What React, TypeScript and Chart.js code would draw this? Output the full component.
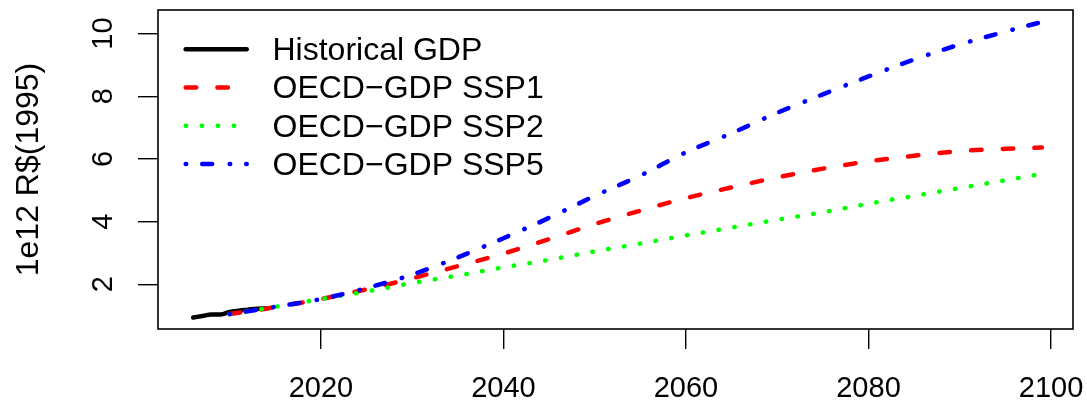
import { useEffect, useRef } from "react"
import { Chart, registerables } from "chart.js"

Chart.register(...registerables)

// Historical series (annual)
const HIST_YEARS = [2006, 2007, 2008, 2009, 2010, 2011, 2012, 2013, 2014]
const HIST_GDP = [0.94, 0.99, 1.04, 1.04, 1.12, 1.16, 1.19, 1.22, 1.23]

// OECD projections, every 5 years
const PROJ_YEARS = [2010, 2015, 2020, 2025, 2030, 2035, 2040, 2045, 2050, 2055, 2060, 2065, 2070, 2075, 2080, 2085, 2090, 2095, 2099]
const SSP1 = [1.05, 1.27, 1.53, 1.84, 2.19, 2.58, 2.98, 3.44, 3.92, 4.35, 4.75, 5.09, 5.41, 5.69, 5.92, 6.1, 6.25, 6.32, 6.36]
const SSP2 = [1.05, 1.28, 1.53, 1.77, 2.04, 2.28, 2.54, 2.78, 3.05, 3.3, 3.56, 3.81, 4.06, 4.3, 4.57, 4.82, 5.07, 5.32, 5.52]
const SSP5 = [1.05, 1.28, 1.53, 1.88, 2.31, 2.86, 3.47, 4.12, 4.82, 5.47, 6.21, 6.82, 7.47, 8.06, 8.63, 9.17, 9.65, 10.06, 10.37]

const X_TICKS = [2020, 2040, 2060, 2080, 2100]
const Y_TICKS = [2, 4, 6, 8, 10]

const LEGEND = [
  { label: "Historical GDP", color: "#000000", dash: [] as number[] },
  { label: "OECD\u2212GDP SSP1", color: "#FF0000", dash: [10.5, 21.2] },
  { label: "OECD\u2212GDP SSP2", color: "#00FF00", dash: [0.5, 15.5] },
  { label: "OECD\u2212GDP SSP5", color: "#0000FF", dash: [0.5, 16, 10, 17.5] },
]

const FONT = "'Liberation Sans', Arial, Helvetica, sans-serif"
const LINE_W = 4.5

const rDecorations = {
  id: "rDecorations",
  afterDraw(chart: any) {
    const { ctx, chartArea: a, scales } = chart
    ctx.save()

    // plot box
    ctx.strokeStyle = "#000"
    ctx.lineWidth = 1.6
    ctx.setLineDash([])
    ctx.strokeRect(a.left, a.top, a.right - a.left, a.bottom - a.top)

    ctx.fillStyle = "#000"

    // x tick labels
    ctx.font = `29px ${FONT}`
    ctx.textAlign = "center"
    ctx.textBaseline = "alphabetic"
    X_TICKS.forEach((v) => {
      ctx.fillText(String(v), scales.x.getPixelForValue(v), 397)
    })

    // y tick labels (rotated, parallel to the axis)
    Y_TICKS.forEach((v) => {
      ctx.save()
      ctx.translate(112, scales.y.getPixelForValue(v))
      ctx.rotate(-Math.PI / 2)
      ctx.fillText(String(v), 0, 0)
      ctx.restore()
    })

    // y axis title
    ctx.save()
    ctx.font = `32px ${FONT}`
    ctx.translate(37.5, (a.top + a.bottom) / 2)
    ctx.rotate(-Math.PI / 2)
    ctx.fillText("1e12 R$(1995)", 0, 0)
    ctx.restore()

    // legend
    ctx.font = `32px ${FONT}`
    ctx.textAlign = "left"
    LEGEND.forEach((item, i) => {
      const cy = 49.3 + i * 38.2
      ctx.beginPath()
      ctx.strokeStyle = item.color
      ctx.lineWidth = LINE_W
      ctx.lineCap = "round"
      ctx.setLineDash(item.dash)
      ctx.moveTo(185.7, cy)
      ctx.lineTo(246.7, cy)
      ctx.stroke()
      ctx.setLineDash([])
      ctx.fillStyle = "#000"
      ctx.fillText(item.label, 272.5, cy + 10.9)
    })

    ctx.restore()
  },
}

export default function App() {
  const chartRef = useRef<HTMLCanvasElement>(null)
  const chartInstance = useRef<Chart | null>(null)

  useEffect(() => {
    if (!chartRef.current) return
    if (chartInstance.current) chartInstance.current.destroy()
    const ctx = chartRef.current.getContext("2d")
    if (!ctx) return

    Chart.defaults.font.family = FONT

    const lineStyle = (color: string, dash: number[]) => ({
      borderColor: color,
      backgroundColor: color,
      borderWidth: LINE_W,
      borderDash: dash,
      borderCapStyle: "round" as const,
      borderJoinStyle: "round" as const,
      pointRadius: 0,
      cubicInterpolationMode: "monotone" as const,
      fill: false,
    })

    chartInstance.current = new Chart(ctx, {
      type: "line",
      data: {
        datasets: [
          {
            label: "Historical GDP",
            data: HIST_YEARS.map((x, i) => ({ x, y: HIST_GDP[i] })),
            ...lineStyle("#000000", []),
            order: 3,
          },
          {
            label: "OECD-GDP SSP1",
            data: PROJ_YEARS.map((x, i) => ({ x, y: SSP1[i] })),
            ...lineStyle("#FF0000", LEGEND[1].dash),
            order: 2,
          },
          {
            label: "OECD-GDP SSP2",
            data: PROJ_YEARS.map((x, i) => ({ x, y: SSP2[i] })),
            ...lineStyle("#00FF00", LEGEND[2].dash),
            order: 1,
          },
          {
            label: "OECD-GDP SSP5",
            data: PROJ_YEARS.map((x, i) => ({ x, y: SSP5[i] })),
            ...lineStyle("#0000FF", LEGEND[3].dash),
            order: 0,
          },
        ],
      },
      options: {
        animation: false,
        responsive: true,
        maintainAspectRatio: false,
        layout: { padding: { top: 10, right: 14, left: 0, bottom: 0 } },
        scales: {
          x: {
            type: "linear",
            min: 2002.14,
            max: 2102.41,
            afterBuildTicks: (scale: any) => {
              scale.ticks = X_TICKS.map((value) => ({ value }))
            },
            afterFit: (scale: any) => {
              scale.height = 76
            },
            ticks: { display: false },
            grid: {
              drawOnChartArea: false,
              drawTicks: true,
              tickLength: 20,
              color: "#000",
              lineWidth: 1.4,
            },
            border: { display: false },
          },
          y: {
            type: "linear",
            min: 0.574,
            max: 10.75,
            afterBuildTicks: (scale: any) => {
              scale.ticks = Y_TICKS.map((value) => ({ value }))
            },
            afterFit: (scale: any) => {
              scale.width = 158
            },
            ticks: { display: false },
            grid: {
              drawOnChartArea: false,
              drawTicks: true,
              tickLength: 20,
              color: "#000",
              lineWidth: 1.4,
            },
            border: { display: false },
          },
        },
        plugins: {
          legend: { display: false },
          tooltip: { enabled: false },
          title: { display: false },
        },
      },
      plugins: [rDecorations],
    })

    return () => {
      if (chartInstance.current) {
        chartInstance.current.destroy()
        chartInstance.current = null
      }
    }
  }, [])

  return (
    <div style={{ position: "absolute", left: 0, top: 0, width: 1087, height: 405, background: "#fff" }}>
      <canvas ref={chartRef}></canvas>
    </div>
  )
}
